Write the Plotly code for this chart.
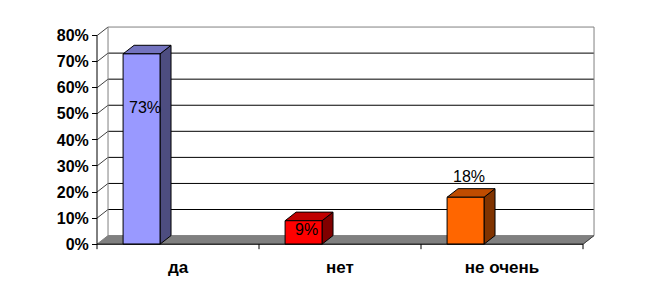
import plotly.graph_objects as go

categories = ["да", "нет", "не очень"]
values = [73, 9, 18]
value_labels = ["73%", "9%", "18%"]
front_colors = ["#9999FF", "#FF0000", "#FF6600"]
top_colors = ["#7373BF", "#BF0000", "#BF4C00"]
side_colors = ["#4D4D80", "#800000", "#803300"]
y_ticks = [0, 10, 20, 30, 40, 50, 60, 70, 80]
y_tick_text = ["0%", "10%", "20%", "30%", "40%", "50%", "60%", "70%", "80%"]

# style / geometry (data units)
DX = 0.068      # depth offset in category units
DY = 3.3        # depth offset in percent units
BAR_SHIFT = -0.225
BAR_W = 0.228
label_offset = [-20.5, -3.3, 8.0]
label_shift = 0.02
n = len(categories)
x_lo, x_hi = -0.5, n - 0.5
y_max = y_ticks[-1]

fig = go.Figure()


def poly(xs, ys, fill, line_color="black", width=1):
    fig.add_trace(go.Scatter(x=xs + [xs[0]], y=ys + [ys[0]], mode="lines", fill="toself",
                             fillcolor=fill, line=dict(color=line_color, width=width),
                             hoverinfo="skip", showlegend=False))


def line(xs, ys, color="black", width=1):
    fig.add_trace(go.Scatter(x=xs, y=ys, mode="lines", line=dict(color=color, width=width),
                             hoverinfo="skip", showlegend=False))


# back wall gridlines and side wall diagonals
gx, gy, sx, sy = [], [], [], []
for t in y_ticks[1:-1]:
    gx += [x_lo + DX, x_hi + DX, None]
    gy += [t + DY, t + DY, None]
for t in y_ticks[1:]:
    sx += [x_lo, x_lo + DX, None]
    sy += [t, t + DY, None]
line(gx, gy, "black", 1)
line(sx, sy, "#404040", 1)
# back wall border (gray)
line([x_lo + DX, x_lo + DX, x_hi + DX, x_hi + DX], [DY, y_max + DY, y_max + DY, DY], "#808080", 1)

# floor
poly([x_lo, x_hi, x_hi + DX, x_lo + DX], [0, 0, DY, DY], "#808080", "#808080", 1)
line([x_hi, x_hi + DX], [0, DY], "#404040", 1)

# bars
for i, v in enumerate(values):
    x0 = i + BAR_SHIFT - BAR_W / 2
    x1 = i + BAR_SHIFT + BAR_W / 2
    poly([x1, x1 + DX, x1 + DX, x1], [0, DY, v + DY, v], side_colors[i])
    poly([x0, x1, x1 + DX, x0 + DX], [v, v, v + DY, v + DY], top_colors[i])
    poly([x0, x1, x1, x0], [0, 0, v, v], front_colors[i])

# front axes
line([x_lo, x_lo], [0, y_max], "black", 1)
line([x_lo, x_hi], [0, 0], "black", 1)

for k in range(n + 1):
    fig.add_shape(type="line", xref="x", yref="y", x0=x_lo + k, x1=x_lo + k,
                  ysizemode="pixel", yanchor=0, y0=0, y1=-5,
                  line=dict(color="black", width=1))

for i, v in enumerate(values):
    fig.add_annotation(x=i + BAR_SHIFT + label_shift, y=v + label_offset[i], text=value_labels[i],
                       showarrow=False, xref="x", yref="y",
                       font=dict(family="Liberation Sans, Arial, sans-serif", size=16, color="black"))

# pixel mapping: x=-0.5 -> 97px, 162 px/unit; y=0 -> 244.5px, 2.6125 px/unit
W, H = 648, 302
ml, mr = 81, 49
x_range = [x_lo - 16 / 162, x_hi + 16 / 162]
y_range = [-3.0, 86.0]
mt = 244.5 - 86.0 * 2.6125
mb = H - (244.5 + 3.0 * 2.6125)
plot_h = H - mt - mb

fig.update_layout(
    width=W, height=H,
    margin=dict(l=ml, r=mr, t=mt, b=mb, pad=0),
    paper_bgcolor="white", plot_bgcolor="white",
    showlegend=False,
    font=dict(family="Liberation Sans, Arial, sans-serif", color="black"),
    xaxis=dict(range=x_range, showgrid=False, zeroline=False, showline=False,
               tickmode="array", tickvals=list(range(n)), ticktext=categories,
               ticks="", ticklabelstandoff=11,
               tickfont=dict(size=17, weight="bold"),
               anchor="free", position=(3.0 * 2.6125) / plot_h),
    yaxis=dict(range=y_range, showgrid=False, zeroline=False, showline=False,
               tickmode="array", tickvals=y_ticks, ticktext=y_tick_text,
               ticks="outside", ticklen=5, tickcolor="black",
               tickfont=dict(size=16, weight="bold"),
               anchor="free", position=16 / (W - ml - mr)),
)

fig.write_html("out.html")
